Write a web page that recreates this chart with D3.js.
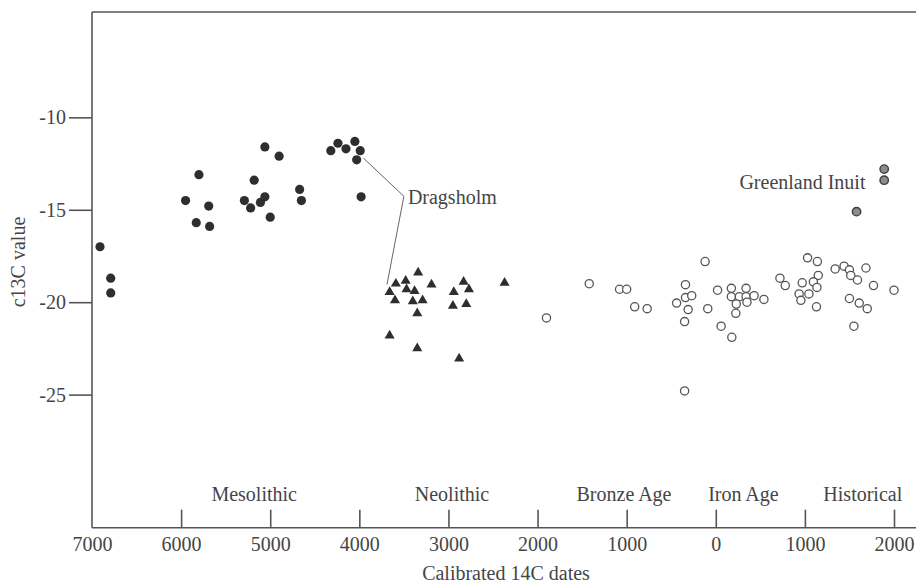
<!DOCTYPE html>
<html>
<head>
<meta charset="utf-8">
<script src="https://cdn.jsdelivr.net/npm/d3@7/dist/d3.min.js"></script>
<style>
  html, body { margin: 0; padding: 0; background: #fff; }
  svg { display: block; }
  text { font-family: "Liberation Serif", "Times New Roman", serif; fill: #454545; }
</style>
</head>
<body>
<svg id="chart" width="916" height="586"></svg>
<script>
// Calibrated 14C dates (negative = BC, positive = AD) and δ13C values

// Mesolithic bones (filled circles)
const mesoDates = [-6910, -6790, -6790, -5950, -5800, -5690, -5830, -5680, -5290, -5220,
                   -5180, -5110, -5060, -5000, -5060, -4900, -4670, -4650, -4320, -4240,
                   -4150, -4050, -3990, -4030, -3980];
const mesoC13   = [-17.0, -18.7, -19.5, -14.5, -13.1, -14.8, -15.7, -15.9, -14.5, -14.9,
                   -13.4, -14.6, -14.3, -15.4, -11.6, -12.1, -13.9, -14.5, -11.8, -11.4,
                   -11.7, -11.3, -11.8, -12.3, -14.3];

// Neolithic bones (filled triangles)
const neoDates = [-3340, -3590, -3480, -3190, -3660, -3470, -3380, -3600, -3400, -3290,
                  -3350, -2830, -2770, -2940, -2950, -2800, -2370, -3660, -3350, -2880];
const neoC13   = [-18.4, -19.0, -18.85, -19.05, -19.45, -19.3, -19.4, -19.9, -19.95, -19.9,
                  -20.6, -18.9, -19.3, -19.45, -20.2, -20.1, -18.95, -21.8, -22.5, -23.05];

// Bronze Age, Iron Age and historical bones (open circles)
const laterDates = [-1900, -1420, -1080, -1000, -910, -770, -120, -340, -440, -340,
                    -270, -310, -350, -350, -90, 20, 60, 180, 175, 175,
                    265, 230, 225, 340, 340, 350, 430, 540, 720, 780,
                    1030, 1140, 1150, 970, 1095, 1135, 935, 1045, 955, 1130,
                    1340, 1440, 1500, 1515, 1590, 1685, 1770, 2000, 1500, 1610,
                    1700, 1550];
const laterC13   = [-20.85, -19.0, -19.3, -19.3, -20.25, -20.35, -17.8, -19.05, -20.05, -19.75,
                    -19.65, -20.4, -21.05, -24.8, -20.35, -19.35, -21.3, -21.9, -19.25, -19.7,
                    -19.7, -20.1, -20.6, -19.25, -19.7, -20.0, -19.65, -19.85, -18.7, -19.1,
                    -17.6, -17.8, -18.55, -18.95, -18.9, -19.2, -19.55, -19.55, -19.9, -20.25,
                    -18.2, -18.05, -18.25, -18.55, -18.8, -18.15, -19.1, -19.35, -19.8, -20.05,
                    -20.35, -21.3];

// Greenland Inuit (grey circles)
const inuitDates = [1890, 1890, 1580];
const inuitC13   = [-12.8, -13.4, -15.1];

// Axis ticks
const xTickValues = [-7000, -6000, -5000, -4000, -3000, -2000, -1000, 0, 1000, 2000];
const yTickValues = [-10, -15, -20, -25];

// Cultural periods along the time axis
const periodNames = ["Mesolithic", "Neolithic", "Bronze Age", "Iron Age", "Historical"];
const periodMid   = [-5180, -2960, -1030, 310, 1650];

// Callouts
const dragsholmLabel = { text: "Dragsholm", date: -3500, c13: -14.27 };
const dragsholmTargets = [ { date: -3955, c13: -12.2 }, { date: -3690, c13: -19.05 } ];
const inuitLabel = { text: "Greenland Inuit", date: 1680, c13: -13.9 };

const svg = d3.select("#chart");
const W = 916;

const x = d3.scaleLinear().domain([-7000, 2000]).range([92, 894]);
const y = d3.scaleLinear().domain([-4.3, -32.2]).range([12, 527.7]);

const axisColor = "#555";

// frame: top line
svg.append("line")
  .attr("x1", x.range()[0]).attr("x2", W)
  .attr("y1", y.range()[0]).attr("y2", y.range()[0])
  .attr("stroke", axisColor).attr("stroke-width", 1.6);

// left axis, ticks pointing outwards
const yAxis = d3.axisLeft(y).tickValues(yTickValues).tickSize(23).tickPadding(3)
  .tickSizeOuter(0).tickFormat(d => d);
const gy = svg.append("g").attr("transform", `translate(${x.range()[0]},0)`).call(yAxis);
gy.select(".domain").remove();
gy.selectAll(".tick line").attr("stroke", axisColor).attr("stroke-width", 1.6);
gy.selectAll(".tick text").attr("font-size", 20);
svg.append("line")
  .attr("x1", x.range()[0]).attr("x2", x.range()[0])
  .attr("y1", y.range()[0]).attr("y2", y.range()[1])
  .attr("stroke", axisColor).attr("stroke-width", 1.6);

// bottom axis, ticks pointing inwards
const xAxis = d3.axisBottom(x).tickValues(xTickValues).tickSize(-18).tickPadding(9)
  .tickSizeOuter(0).tickFormat(d => Math.abs(d));
const gx = svg.append("g").attr("transform", `translate(0,${y.range()[1]})`).call(xAxis);
gx.select(".domain").remove();
gx.selectAll(".tick line").attr("stroke", axisColor).attr("stroke-width", 1.6)
  .filter(d => d === -7000).remove();
gx.selectAll(".tick text").attr("font-size", 20);
svg.append("line")
  .attr("x1", x.range()[0]).attr("x2", W)
  .attr("y1", y.range()[1]).attr("y2", y.range()[1])
  .attr("stroke", axisColor).attr("stroke-width", 1.6);

// axis titles
svg.append("text")
  .attr("transform", `translate(25,262) rotate(-90)`)
  .attr("text-anchor", "middle").attr("font-size", 20)
  .text("c13C value");
svg.append("text")
  .attr("x", 506).attr("y", 580)
  .attr("text-anchor", "middle").attr("font-size", 20)
  .text("Calibrated 14C dates");

// period labels
svg.append("g").selectAll("text")
  .data(periodNames)
  .join("text")
  .attr("x", (d, i) => x(periodMid[i]))
  .attr("y", y.range()[1] - 27)
  .attr("text-anchor", "middle").attr("font-size", 20)
  .text(d => d);

// Dragsholm leader lines
const jx = x(dragsholmLabel.date), jy = y(dragsholmLabel.c13);
svg.append("g").selectAll("line")
  .data(dragsholmTargets)
  .join("line")
  .attr("x1", jx).attr("y1", jy)
  .attr("x2", d => x(d.date)).attr("y2", d => y(d.c13))
  .attr("stroke", "#666").attr("stroke-width", 1);
svg.append("text")
  .attr("x", jx + 4).attr("y", jy + 8)
  .attr("font-size", 20)
  .text(dragsholmLabel.text);

svg.append("text")
  .attr("x", x(inuitLabel.date)).attr("y", y(inuitLabel.c13))
  .attr("text-anchor", "end").attr("font-size", 20)
  .text(inuitLabel.text);

// points
const zip = (a, b) => a.map((v, i) => [v, b[i]]);

svg.append("g").selectAll("circle")
  .data(zip(mesoDates, mesoC13))
  .join("circle")
  .attr("cx", d => x(d[0])).attr("cy", d => y(d[1]))
  .attr("r", 4.6).attr("fill", "#2e2e2e");

const tri = d3.symbol().type(d3.symbolTriangle).size(44);
svg.append("g").selectAll("path")
  .data(zip(neoDates, neoC13))
  .join("path")
  .attr("d", tri)
  .attr("transform", d => `translate(${x(d[0])},${y(d[1])})`)
  .attr("fill", "#2e2e2e");

svg.append("g").selectAll("circle")
  .data(zip(laterDates, laterC13))
  .join("circle")
  .attr("cx", d => x(d[0])).attr("cy", d => y(d[1]))
  .attr("r", 4.1).attr("fill", "#fff")
  .attr("stroke", "#555").attr("stroke-width", 1.3);

svg.append("g").selectAll("circle")
  .data(zip(inuitDates, inuitC13))
  .join("circle")
  .attr("cx", d => x(d[0])).attr("cy", d => y(d[1]))
  .attr("r", 4.2).attr("fill", "#8c8c8c")
  .attr("stroke", "#3d3d3d").attr("stroke-width", 1.4);
</script>
</body>
</html>
